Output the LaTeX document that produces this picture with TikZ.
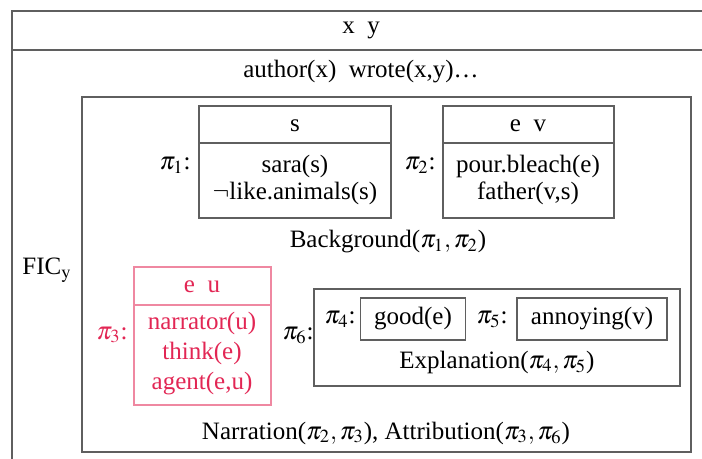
\documentclass[tikz,border=0pt]{standalone}
\usepackage{mathptmx}
\usepackage[no-math]{fontspec}
\setmainfont{Liberation Serif}
\definecolor{drsred}{RGB}{226,38,84}
\definecolor{drsline}{RGB}{95,95,95}
\tikzset{
  box/.style={draw=drsline, line width=0.75pt},
  redbox/.style={draw=drsred!55, line width=0.75pt},
  txt/.style={inner sep=0pt, align=center, font=\fontsize{12.5}{13.5}\selectfont},
  lab/.style={txt, anchor=center},
}
\begin{document}
\begin{tikzpicture}[x=0.5pt,y=-0.5pt]
\useasboundingbox (0,0) rectangle (702,459);
\clip (0,0) rectangle (702,459);
% outer box: x y
\draw[box] (12,11) rectangle (712,475);
\draw[box] (12,50) -- (712,50);
\node[txt] (xy) at (361,30) {x\enspace y};
\node[txt] (authr) at (361,72) {author(x)\enspace wrote(x,y)\ldots};
\node[txt] (fic) at (47,270) {FIC$_{\mathrm{y}}$};
% FIC box
\draw[box] (82,97) rectangle (691,452);
% pi1
\draw[box] (199,106) rectangle (391,218);
\draw[box] (199,143) -- (391,143);
\node[lab] (p1) at (175,165) {$\pi_1$:};
\node[txt] (s) at (295,126) {s};
\node[txt] (sconds) at (295,180) {sara(s)\\$\neg$like.animals(s)};
% pi2
\draw[box] (443,106) rectangle (614,218);
\draw[box] (443,143) -- (614,143);
\node[lab] (p2) at (420,165) {$\pi_2$:};
\node[txt] (ev) at (528,126) {e\enspace v};
\node[txt] (evconds) at (528,180) {pour.bleach(e)\\father(v,s)};
\node[txt] (bg) at (388,242) {Background($\pi_1,\pi_2$)};
% pi3 (red)
\begin{scope}[text=drsred]
\draw[redbox] (134,267) rectangle (271,405);
\draw[redbox] (134,305) -- (271,305);
\node[lab] (p3) at (112,335) {$\pi_3$:};
\node[txt] (eu) at (202,287) {e\enspace u};
\node[txt] (euconds) at (202,354) {narrator(u)\\[1.5pt]think(e)\\[1.5pt]agent(e,u)};
\end{scope}
% pi6
\node[lab] (p6) at (298,335) {$\pi_6$:};
\draw[box] (314,289) rectangle (680,386);
\node[lab] (p4) at (340,319) {$\pi_4$:};
\node[txt, box, minimum width=52.5pt, minimum height=21pt] (good) at (413,319) {good(e)};
\node[lab] (p5) at (492,319) {$\pi_5$:};
\node[txt, box, minimum width=75pt, minimum height=21pt] (annoy) at (592,319) {annoying(v)};
\node[txt] (expl) at (497,362) {Explanation($\pi_4,\pi_5$)};
\node[txt] (narr) at (386,433) {Narration($\pi_2,\pi_3$), Attribution($\pi_3,\pi_6$)};
\end{tikzpicture}
\end{document}
